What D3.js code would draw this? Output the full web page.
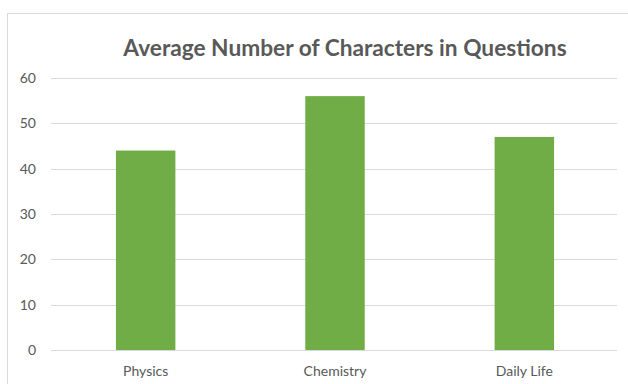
<!DOCTYPE html>
<html>
<head>
<meta charset="utf-8">
<script src="https://cdn.jsdelivr.net/npm/d3@7"></script>
<style>
  html, body { margin: 0; padding: 0; background: #fff; }
  svg { display: block; }
</style>
</head>
<body>
<svg id="chart" width="628" height="384"></svg>
<script>
// Chart data
const categories = ["Physics", "Chemistry", "Daily Life"];
const avgChars = [44, 56, 47];
const yTicks = [0, 10, 20, 30, 40, 50, 60];
const titleText = "Average Number of Characters in Questions";

const svg = d3.select("#chart");
const plot = { left: 51, right: 619, top: 78, bottom: 350 };
const textColor = "#595959";
const fontFamily = "Lato, 'Open Sans', sans-serif";

// Chart frame
svg.append("rect")
  .attr("x", 7.5).attr("y", 13.5)
  .attr("width", 660).attr("height", 420)
  .attr("fill", "#fff")
  .attr("stroke", "#d9d9d9")
  .attr("stroke-width", 1);

// Title
svg.append("text")
  .attr("x", 345).attr("y", 56)
  .attr("text-anchor", "middle")
  .attr("font-family", fontFamily)
  .attr("font-weight", "bold")
  .attr("font-size", 22.7)
  .attr("fill", textColor)
  .text(titleText);

const x = d3.scaleBand()
  .domain(categories)
  .range([plot.left, plot.right])
  .paddingInner(0.686)
  .paddingOuter(0.343);

const y = d3.scaleLinear()
  .domain([0, 60])
  .range([plot.bottom, plot.top]);

// Horizontal gridlines
svg.append("g")
  .selectAll("line")
  .data(yTicks)
  .join("line")
  .attr("x1", plot.left).attr("x2", plot.right - 2)
  .attr("y1", d => Math.round(y(d)) + 0.5)
  .attr("y2", d => Math.round(y(d)) + 0.5)
  .attr("stroke", "#d9d9d9")
  .attr("stroke-width", 1);

// Y axis labels
const yAxis = svg.append("g")
  .attr("transform", `translate(${plot.left - 15},0)`)
  .call(d3.axisLeft(y).tickValues(yTicks).tickSize(0).tickPadding(0));
yAxis.select(".domain").remove();
yAxis.selectAll("text")
  .attr("font-family", fontFamily)
  .attr("font-size", 14)
  .attr("fill", textColor);

// Bars
svg.append("g")
  .selectAll("rect")
  .data(categories.map((c, i) => ({ c, v: avgChars[i] })))
  .join("rect")
  .attr("x", d => x(d.c))
  .attr("width", x.bandwidth())
  .attr("y", d => y(d.v))
  .attr("height", d => y(0) - y(d.v))
  .attr("fill", "#70ad47");

// X axis labels
const xAxis = svg.append("g")
  .attr("transform", `translate(0,${plot.bottom + 16})`)
  .call(d3.axisBottom(x).tickSize(0).tickPadding(0));
xAxis.select(".domain").remove();
xAxis.selectAll("text")
  .attr("font-family", fontFamily)
  .attr("font-size", 14)
  .attr("fill", textColor);
</script>
</body>
</html>
